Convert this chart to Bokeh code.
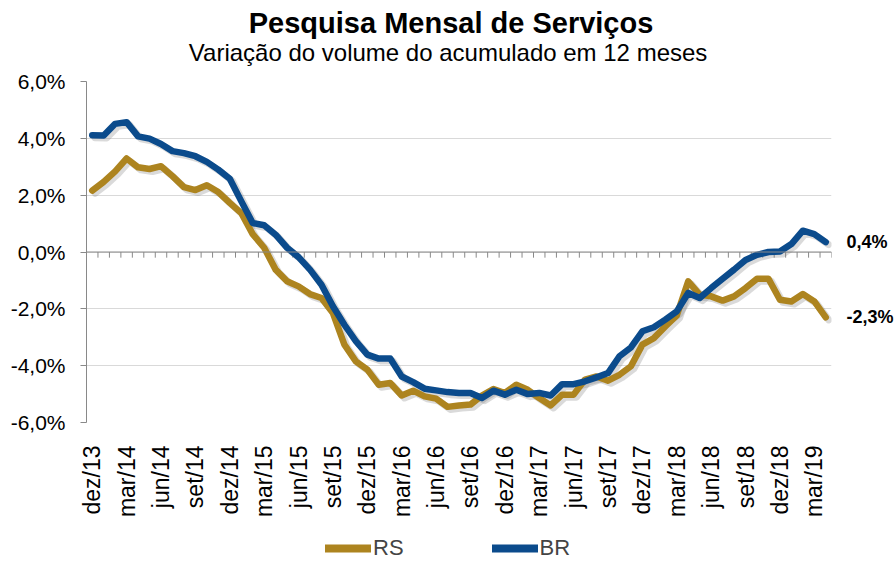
import numpy as np
from math import pi
from bokeh.plotting import figure
from bokeh.layouts import column
from bokeh.core.properties import value
from bokeh.transform import dodge
from bokeh.models import (Range1d, FixedTicker, Span, Legend, LegendItem,
                          ColumnDataSource, LinearAxis)
from bokeh.embed import file_html
from bokeh.resources import INLINE

# ---------------- data ----------------
title_text = "Pesquisa Mensal de Serviços"
subtitle_text = "Variação do volume do acumulado em 12 meses"

tick_labels = ["dez/13", "mar/14", "jun/14", "set/14", "dez/14", "mar/15", "jun/15",
               "set/15", "dez/15", "mar/16", "jun/16", "set/16", "dez/16", "mar/17",
               "jun/17", "set/17", "dez/17", "mar/18", "jun/18", "set/18", "dez/18",
               "mar/19"]

rs = [2.16, 2.47, 2.84, 3.29, 2.98, 2.92, 3.02, 2.67, 2.28, 2.18, 2.35, 2.11, 1.73,
      1.37, 0.63, 0.15, -0.62, -1.03, -1.21, -1.48, -1.62, -2.15, -3.26, -3.85,
      -4.14, -4.67, -4.61, -5.05, -4.88, -5.08, -5.16, -5.45, -5.40, -5.37, -5.05,
      -4.82, -4.96, -4.67, -4.85, -5.14, -5.40, -5.02, -5.02, -4.49, -4.38, -4.53,
      -4.32, -4.02, -3.26, -3.03, -2.62, -2.23, -1.03, -1.50, -1.56, -1.71, -1.56,
      -1.27, -0.94, -0.94, -1.68, -1.74, -1.48, -1.74, -2.30]

br = [4.11, 4.10, 4.51, 4.57, 4.07, 3.99, 3.80, 3.55, 3.48, 3.37, 3.17, 2.90, 2.58,
      1.79, 1.02, 0.94, 0.61, 0.15, -0.18, -0.62, -1.15, -1.91, -2.56, -3.14, -3.61,
      -3.75, -3.75, -4.38, -4.58, -4.81, -4.87, -4.93, -4.96, -4.96, -5.14, -4.88,
      -5.02, -4.85, -5.00, -4.96, -5.05, -4.65, -4.65, -4.55, -4.41, -4.26, -3.67,
      -3.36, -2.79, -2.65, -2.38, -2.09, -1.44, -1.62, -1.27, -0.94, -0.62, -0.28,
      -0.10, 0.00, 0.02, 0.28, 0.75, 0.63, 0.35]

series_names = ["RS", "BR"]
end_labels = ["-2,3%", "0,4%"]
y_ticks = [-6, -4, -2, 0, 2, 4, 6]
y_tick_labels = ["-6,0%", "-4,0%", "-2,0%", "0,0%", "2,0%", "4,0%", "6,0%"]

# ---------------- styling ----------------
FONT = "Liberation Sans"
GOLD = "#AD841F"
BLUE = "#0B4B8C"
GRAY = "#898989"

n = len(rs)
x = list(range(n))
src = ColumnDataSource(dict(x=x, rs=rs, br=br))

# ---------------- title strip (pixel-like coordinates) ----------------
tf = figure(width=896, height=67, x_range=Range1d(86, 836), y_range=Range1d(67, 0),
            output_backend="svg", toolbar_location=None, x_axis_location=None,
            y_axis_location=None, min_border=0, title_location=None)
tf.outline_line_color = None
tf.xgrid.grid_line_color = None
tf.ygrid.grid_line_color = None
tf.text(x=[453], y=[22.0], text=[title_text], text_align="center",
        text_baseline="alphabetic", text_font=value(FONT), text_font_size="29px",
        text_font_style="bold", text_color="black")
tf.text(x=[450], y=[52.0], text=[subtitle_text], text_align="center",
        text_baseline="alphabetic", text_font=value(FONT), text_font_size="24px",
        text_color="black")

# ---------------- main chart ----------------
p = figure(width=896, height=454, x_range=Range1d(-0.5, n - 0.5),
           y_range=Range1d(-6, 6), output_backend="svg", toolbar_location=None,
           min_border_left=86, min_border_right=60, min_border_top=14,
           min_border_bottom=99, title_location=None)
p.outline_line_color = None
p.background_fill_color = "white"
p.border_fill_color = "white"

# grid
p.xgrid.grid_line_color = None
p.ygrid.grid_line_color = "#D9D9D9"
p.ygrid.grid_line_width = 1

# y axis
p.yaxis.ticker = FixedTicker(ticks=y_ticks)
p.yaxis.major_label_overrides = {t: l for t, l in zip(y_ticks, y_tick_labels)}
p.yaxis.axis_line_color = GRAY
p.yaxis.major_tick_line_color = GRAY
p.yaxis.major_tick_in = 0
p.yaxis.major_tick_out = 6
p.yaxis.minor_tick_line_color = None
p.yaxis.major_label_text_font = FONT
p.yaxis.major_label_text_font_size = "21px"
p.yaxis.major_label_text_color = "black"
p.yaxis.major_label_standoff = 15

# x axis (labels only)
label_pos = list(range(0, n, 3))[:len(tick_labels)]
p.xaxis.ticker = FixedTicker(ticks=label_pos)
p.xaxis.major_label_overrides = {t: l for t, l in zip(label_pos, tick_labels)}
p.xaxis.major_label_orientation = pi / 2
p.xaxis.axis_line_color = None
p.xaxis.major_tick_line_color = None
p.xaxis.minor_tick_line_color = None
p.xaxis.major_label_text_font = FONT
p.xaxis.major_label_text_font_size = "23px"
p.xaxis.major_label_text_color = "black"
p.xaxis.major_label_standoff = 17

# right axis carrying the end-of-series value labels
end_ax = LinearAxis(ticker=FixedTicker(ticks=[rs[-1], br[-1]]),
                    major_label_overrides={rs[-1]: end_labels[0], br[-1]: end_labels[1]},
                    axis_line_color=None, major_tick_line_color=None,
                    minor_tick_line_color=None, major_label_standoff=9,
                    major_label_text_font=FONT, major_label_text_font_size="18px",
                    major_label_text_font_style="bold", major_label_text_color="black")
p.add_layout(end_ax, "right")

# zero line with category tick marks
p.add_layout(Span(location=0, dimension="width", line_color=GRAY, line_width=1.2))
bounds = np.arange(-0.5, n, 1.0)
p.segment(x0=bounds, y0=np.zeros_like(bounds), x1=bounds,
          y1=np.full_like(bounds, -0.2), line_color=GRAY, line_width=1)

# soft shadows (shifted copies via dodge transforms)
for col in ["rs", "br"]:
    p.line(dodge("x", 0.25, range=p.x_range), dodge(col, -0.09, range=p.y_range),
           source=src, line_color="#7a7a7a", line_alpha=0.28, line_width=7,
           line_join="round", line_cap="round")

# series
p.line("x", "rs", source=src, line_color=GOLD, line_width=6.5,
       line_join="round", line_cap="round")
p.line("x", "br", source=src, line_color=BLUE, line_width=6.5,
       line_join="round", line_cap="round")

# ---------------- legend strip ----------------
lg = figure(width=896, height=40, x_range=Range1d(1000, 1001), y_range=Range1d(0, 1),
            output_backend="svg", toolbar_location=None, x_axis_location=None,
            y_axis_location=None, min_border=0, title_location=None)
lg.outline_line_color = None
lg.xgrid.grid_line_color = None
lg.ygrid.grid_line_color = None
g_rs = lg.line("x", "rs", source=src, line_color=GOLD, line_width=8, line_cap="round")
g_br = lg.line("x", "br", source=src, line_color=BLUE, line_width=8, line_cap="round")
legend = Legend(items=[LegendItem(label=series_names[0], renderers=[g_rs]),
                       LegendItem(label=series_names[1], renderers=[g_br])],
                orientation="horizontal", location=(239, 0),
                label_text_font=FONT, label_text_font_size="22px",
                label_height=24, glyph_height=24,
                glyph_width=46, label_standoff=2, spacing=88,
                padding=0, margin=0, border_line_color=None,
                background_fill_alpha=0)
lg.add_layout(legend)

open("out.html", "w").write(file_html(column(tf, p, lg), INLINE))
